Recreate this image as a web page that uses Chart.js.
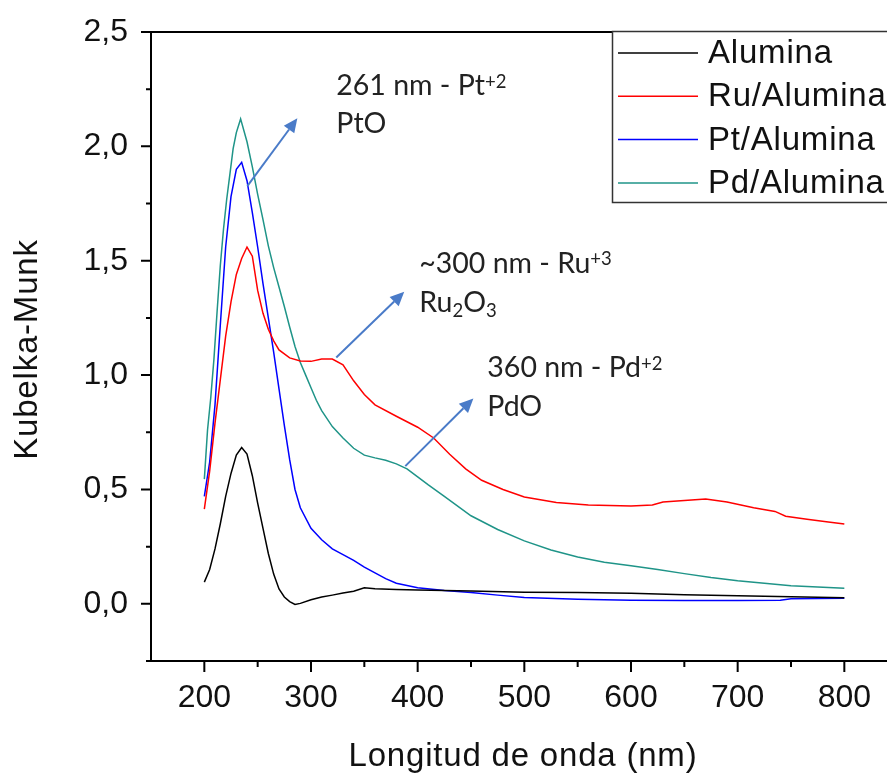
<!DOCTYPE html>
<html><head><meta charset="utf-8">
<script src="https://cdn.jsdelivr.net/npm/chart.js@4.4.1/dist/chart.umd.min.js"></script>
<style>html,body{margin:0;padding:0;background:#fff;overflow:hidden}#c{display:block}</style>
</head><body>
<canvas id="c" width="887" height="774"></canvas>
<script>
// ---- data ----
const aluminaWl = [200,205,210,215,220,225,230,235,240,245,250,255,260,265,270,275,280,285,290,300,310,320,330,340,350,360,380,400,450,500,550,600,650,700,750,800];
const aluminaKM = [0.095,0.15,0.24,0.35,0.47,0.57,0.65,0.683,0.655,0.56,0.44,0.33,0.22,0.13,0.065,0.03,0.01,-0.003,0.002,0.018,0.03,0.038,0.047,0.055,0.07,0.066,0.063,0.06,0.056,0.051,0.049,0.046,0.04,0.035,0.031,0.026];

const ruWl = [200,205,210,215,220,225,230,235,240,245,250,255,260,265,270,280,290,300,310,320,330,340,350,360,380,400,415,430,445,460,480,500,530,560,600,620,630,650,670,690,715,735,745,765,785,800];
const ruKM = [0.414,0.58,0.79,0.98,1.17,1.32,1.44,1.51,1.56,1.52,1.37,1.27,1.20,1.15,1.11,1.075,1.062,1.06,1.07,1.07,1.045,0.975,0.915,0.87,0.82,0.772,0.725,0.654,0.59,0.54,0.50,0.467,0.443,0.432,0.428,0.432,0.445,0.452,0.458,0.445,0.42,0.404,0.383,0.37,0.358,0.349];

const ptWl = [200,205,210,215,220,225,230,235,240,245,250,255,260,265,270,275,280,285,290,300,310,320,330,340,350,360,370,380,400,425,450,475,500,550,600,650,700,740,750,800];
const ptKM = [0.47,0.62,0.87,1.22,1.56,1.78,1.90,1.93,1.85,1.71,1.56,1.40,1.25,1.10,0.94,0.78,0.63,0.50,0.42,0.33,0.28,0.24,0.215,0.19,0.16,0.135,0.11,0.09,0.07,0.058,0.05,0.038,0.028,0.02,0.016,0.015,0.015,0.016,0.022,0.024];

const pdWl = [200,203,206,209,212,215,218,221,224,227,230,234,240,245,250,255,260,265,270,275,280,285,290,295,300,305,310,320,330,340,350,360,370,380,390,400,410,425,450,475,500,525,550,575,600,625,650,675,700,725,750,775,800];
const pdKM = [0.545,0.76,0.90,1.07,1.28,1.48,1.64,1.77,1.88,1.99,2.06,2.12,2.02,1.91,1.79,1.68,1.565,1.47,1.385,1.30,1.21,1.125,1.055,1.0,0.945,0.89,0.845,0.775,0.725,0.68,0.65,0.638,0.628,0.612,0.59,0.555,0.52,0.47,0.385,0.325,0.275,0.235,0.205,0.182,0.166,0.15,0.132,0.115,0.101,0.09,0.079,0.073,0.068];

const seriesNames = ['Alumina','Ru/Alumina','Pt/Alumina','Pd/Alumina'];
const xTickValues = [200,300,400,500,600,700,800];
const xTickLabels = ['200','300','400','500','600','700','800'];
const yTickValues = [0,0.5,1.0,1.5,2.0,2.5];
const yTickLabels = ['0,0','0,5','1,0','1,5','2,0','2,5'];
const xTitle = 'Longitud de onda (nm)';
const yTitle = 'Kubelka-Munk';

// annotation arrows (data coordinates: from -> to) and label texts
const arrowFrom = [[240.3,1.826],[323.7,1.077],[388.4,0.602]];
const arrowTo   = [[287.2,2.123],[387.4,1.364],[452.2,0.898]];
const noteAnchors = [[323.7,2.223],[323.7,2.058],[401.5,1.447],[401.5,1.277],[465.3,0.990],[465.3,0.820]];
const noteTexts = [
  [{t:'261 nm - Pt'},{t:'+2',sup:true}],
  [{t:'PtO'}],
  [{t:'~300 nm - Ru'},{t:'+3',sup:true}],
  [{t:'Ru'},{t:'2',sub:true},{t:'O'},{t:'3',sub:true}],
  [{t:'360 nm - Pd'},{t:'+2',sup:true}],
  [{t:'PdO'}]
];

// ---- styles ----
const colors = ['#000000','#ff0000','#0000ff','#1f9488'];
const AX = 'Liberation Sans, Arial, sans-serif';

const toXY = (w,k) => w.map((x,i)=>({x:x,y:k[i]}));
const dataSets = [[aluminaWl,aluminaKM],[ruWl,ruKM],[ptWl,ptKM],[pdWl,pdKM]];

const decorPlugin = {
  id:'decor',
  afterDraw(chart){
    const ctx = chart.ctx, xs = chart.scales.x, ys = chart.scales.y;
    const {left,right,top,bottom} = chart.chartArea;
    ctx.save();
    // frame
    ctx.strokeStyle='#000'; ctx.lineWidth=2; ctx.lineCap='square';
    ctx.beginPath(); ctx.moveTo(left,top); ctx.lineTo(left,bottom); ctx.lineTo(right,bottom); ctx.stroke();
    ctx.beginPath(); ctx.moveTo(left,top); ctx.lineTo(right,top); ctx.stroke();
    ctx.lineCap='butt';
    // ticks
    ctx.beginPath();
    xTickValues.forEach(v=>{const p=xs.getPixelForValue(v); ctx.moveTo(p,bottom); ctx.lineTo(p,bottom+11);});
    xTickValues.forEach(v=>{const p=xs.getPixelForValue(v+50); if(p<right){ctx.moveTo(p,bottom); ctx.lineTo(p,bottom+6);}});
    yTickValues.forEach(v=>{const p=ys.getPixelForValue(v); ctx.moveTo(left,p); ctx.lineTo(left-10,p);});
    yTickValues.forEach(v=>{const p=ys.getPixelForValue(v-0.25); ctx.moveTo(left,p); ctx.lineTo(left-5,p);});
    ctx.stroke();
    // arrows
    ctx.strokeStyle='#4a7bc8'; ctx.fillStyle='#4a7bc8'; ctx.lineWidth=2;
    arrowFrom.forEach((f,i)=>{
      const x0=xs.getPixelForValue(f[0]), y0=ys.getPixelForValue(f[1]);
      const x1=xs.getPixelForValue(arrowTo[i][0]), y1=ys.getPixelForValue(arrowTo[i][1]);
      const a=Math.atan2(y1-y0,x1-x0), L=14, W=6.5;
      const bx=x1-L*Math.cos(a), by=y1-L*Math.sin(a);
      ctx.beginPath(); ctx.moveTo(x0,y0); ctx.lineTo(bx,by); ctx.stroke();
      ctx.beginPath(); ctx.moveTo(x1,y1);
      ctx.lineTo(bx+W*Math.sin(a), by-W*Math.cos(a));
      ctx.lineTo(bx-W*Math.sin(a), by+W*Math.cos(a));
      ctx.closePath(); ctx.fill();
    });
    // notes
    const NF = 28.5;
    ctx.fillStyle='#222'; ctx.textBaseline='alphabetic'; ctx.textAlign='left';
    noteTexts.forEach((parts,i)=>{
      let x=xs.getPixelForValue(noteAnchors[i][0]); const y=ys.getPixelForValue(noteAnchors[i][1]);
      parts.forEach(p=>{
        let fs=NF, dy=0;
        if(p.sup){fs=NF*0.65; dy=-NF*0.26;}
        if(p.sub){fs=NF*0.65; dy=NF*0.2;}
        ctx.font = fs+'px Lato, sans-serif';
        ctx.fillText(p.t,x,y+dy);
        x += ctx.measureText(p.t).width;
      });
    });
    // legend
    const lx=612, ly=31, lw=320, lh=171;
    ctx.fillStyle='#fff'; ctx.fillRect(lx,ly,lw,lh);
    ctx.strokeStyle='#333'; ctx.lineWidth=1.5; ctx.strokeRect(lx+0.5,ly+0.5,lw,lh);
    ctx.font='33px '+AX; ctx.textBaseline='middle';
    try{ctx.letterSpacing='0.8px';}catch(e){}
    seriesNames.forEach((n,i)=>{
      const cy = 53 + i*43.3;
      ctx.strokeStyle=colors[i]; ctx.lineWidth=1.5;
      ctx.beginPath(); ctx.moveTo(618,cy); ctx.lineTo(698,cy); ctx.stroke();
      ctx.fillStyle='#111'; ctx.fillText(n,708,cy+1);
    });
    // axis titles
    ctx.fillStyle='#111'; ctx.textAlign='center'; ctx.textBaseline='middle';
    ctx.fillText(xTitle, 523, 757);
    ctx.translate(28,(top+bottom)/2+3); ctx.rotate(-Math.PI/2);
    ctx.fillText(yTitle, 0, 0);
    try{ctx.letterSpacing='0px';}catch(e){}
    ctx.restore();
  }
};

new Chart(document.getElementById('c'), {
  type:'line',
  data:{ datasets: dataSets.map((d,i)=>({
    label: seriesNames[i], data: toXY(d[0],d[1]), borderColor: colors[i], backgroundColor: colors[i],
    borderWidth:1.5, pointRadius:0, tension:0, fill:false
  }))},
  options:{
    responsive:false, animation:false, devicePixelRatio:1,
    layout:{padding:{top:32,left:0,right:0,bottom:0}},
    plugins:{legend:{display:false}, tooltip:{enabled:false}},
    scales:{
      x:{type:'linear', min:150, max:840,
        grid:{display:false, drawTicks:false}, border:{display:false},
        afterBuildTicks:s=>{s.ticks = xTickValues.map(v=>({value:v}));},
        afterFit:s=>{s.height=113; s.paddingLeft=0; s.paddingRight=0;},
        ticks:{padding:18, autoSkip:false, maxRotation:0, color:'#111',
          font:{family:AX, size:32}, callback:(v,i)=>xTickLabels[i]}
      },
      y:{type:'linear', min:-0.25, max:2.5,
        grid:{display:false, drawTicks:false}, border:{display:false},
        afterBuildTicks:s=>{s.ticks = yTickValues.map(v=>({value:v}));},
        afterFit:s=>{s.width=151; s.paddingTop=0; s.paddingBottom=0;},
        ticks:{padding:23, color:'#111', font:{family:AX, size:32}, callback:(v,i)=>yTickLabels[i]}
      }
    }
  },
  plugins:[decorPlugin]
});
</script>
</body></html>
